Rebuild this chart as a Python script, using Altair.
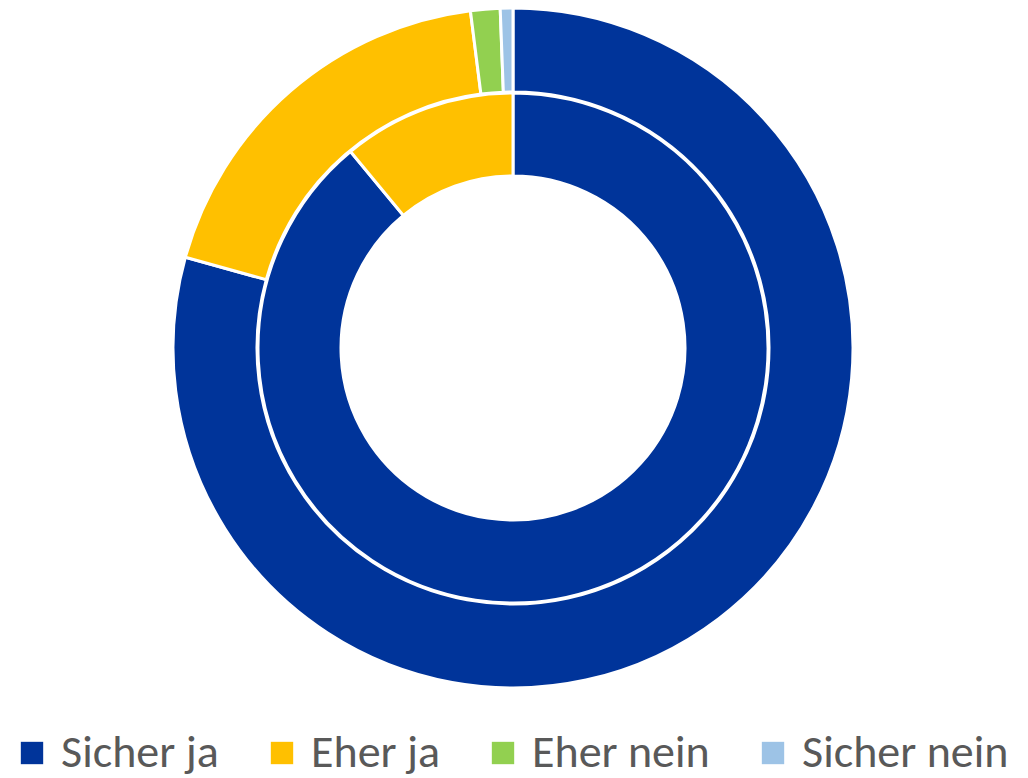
import altair as alt
import pandas as pd

categories = ["Sicher ja", "Eher ja", "Eher nein", "Sicher nein"]
colors = ["#00349A", "#FFC000", "#92D050", "#9DC3E6"]
outer_values = [79.3, 18.7, 1.4, 0.6]
inner_values = [89.0, 11.0, 0.0, 0.0]

outer_df = pd.DataFrame({"cat": categories, "value": outer_values, "idx": range(4)})
inner_df = pd.DataFrame({"cat": categories, "value": inner_values, "idx": range(4)})
inner_df = inner_df[inner_df["value"] > 0]

color = alt.Color(
    "cat:N",
    scale=alt.Scale(domain=categories, range=colors),
    sort=categories,
    legend=alt.Legend(
        orient="none", legendX=1, legendY=722, direction="horizontal",
        title=None, symbolType="square", symbolSize=500, symbolStrokeWidth=0,
        labelFontSize=46, labelFont="Carlito, Lato, sans-serif", labelColor="#595959",
        columnPadding=40, labelOffset=6, symbolOpacity=1, labelLimit=500,
    ),
)

cx, cy = 505, 340

outer = alt.Chart(outer_df).mark_arc(
    radius=340, radius2=256, stroke="white", strokeWidth=3
).encode(
    theta=alt.Theta("value:Q", stack=True),
    order=alt.Order("idx:Q"),
    color=color,
    x=alt.value(cx), y=alt.value(cy),
)

inner = alt.Chart(inner_df).mark_arc(
    radius=255, radius2=172, stroke="white", strokeWidth=3
).encode(
    theta=alt.Theta("value:Q", stack=True),
    order=alt.Order("idx:Q"),
    color=alt.Color("cat:N", scale=alt.Scale(domain=categories, range=colors), legend=None),
    x=alt.value(cx), y=alt.value(cy),
)

chart = alt.layer(outer, inner).properties(
    width=1012, height=770, autosize=alt.AutoSizeParams(type="none"), padding=0
).configure_view(stroke=None)

chart.save("out.html", embed_options={"renderer": "svg", "actions": False})
